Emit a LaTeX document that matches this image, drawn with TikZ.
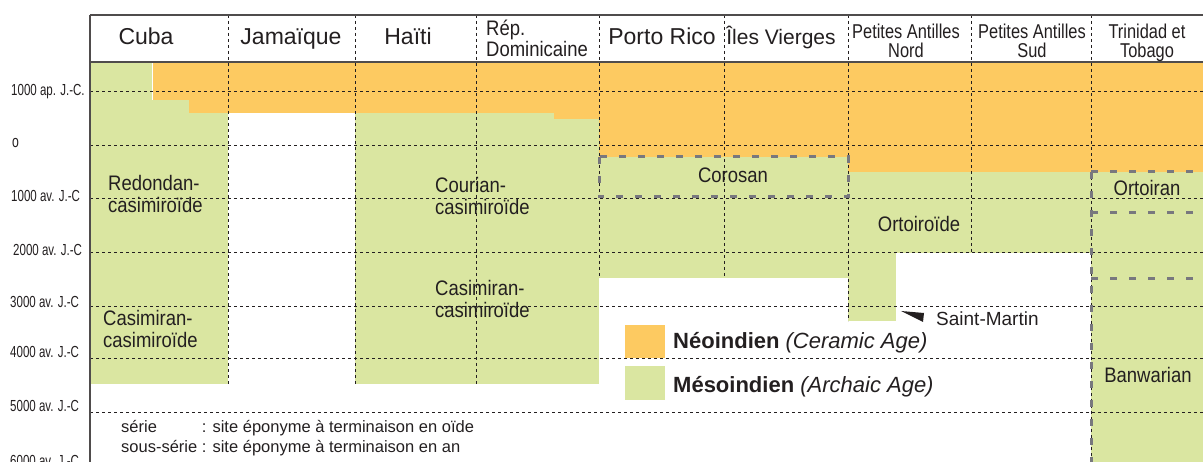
\documentclass[tikz,border=0pt]{standalone}
\usepackage{fontspec}
\setmainfont{Liberation Sans}
\newfontfamily\datefont[FakeStretch=0.72]{Liberation Sans}
\newfontfamily\paysfont[FakeStretch=0.82]{Liberation Sans}
\newfontfamily\culturefont[FakeStretch=0.88]{Liberation Sans}

\definecolor{neo}{RGB}{253,202,97}
\definecolor{meso}{RGB}{218,230,161}
\definecolor{trait}{RGB}{35,31,32}
\definecolor{tiret}{RGB}{120,120,126}

\tikzset{
  grille/.style={trait, line width=0.9pt, dash pattern=on 3pt off 3pt},
  serie/.style={tiret, line width=3pt, dash pattern=on 7pt off 12pt},
  cadre/.style={trait!80, line width=1.5pt},
  pays/.style={font=\fontsize{23}{26}\selectfont, text=trait, inner sep=0pt, anchor=base},
  paysdeux/.style={font=\paysfont\fontsize{20}{18.5}\selectfont, text=trait, inner sep=0pt, align=center, anchor=north},
  datation/.style={font=\datefont\fontsize{16}{18}\selectfont, text=trait, inner sep=0pt, anchor=base west},
  culture/.style={font=\culturefont\fontsize{21}{22.5}\selectfont, text=trait, inner sep=0pt, align=left, anchor=north west},
  phase/.style={font=\culturefont\fontsize{21}{22.5}\selectfont, text=trait, inner sep=0pt, anchor=base},
}

\begin{document}
\begin{tikzpicture}[x=1pt,y=-1pt]
    \useasboundingbox (0,0) rectangle (1203,462);

    % Néoindien
    \fill[neo] (153,62) rectangle (228,100);
    \fill[neo] (189,100) rectangle (228,113);
    \fill[neo] (228,62) rectangle (599,113);
    \fill[neo] (554,113) rectangle (599,119);
    \fill[neo] (599,62) rectangle (848,157);
    \fill[neo] (848,62) rectangle (1203,172);

    % Mésoindien
    \fill[meso] (90,62) rectangle (152,100);
    \fill[meso] (90,100) rectangle (189,113);
    \fill[meso] (90,113) rectangle (228,384);
    \fill[meso] (355,113) rectangle (554,384);
    \fill[meso] (554,119) rectangle (599,384);
    \fill[meso] (599,157) rectangle (848,278);
    \fill[meso] (848,172) rectangle (1091,253);
    \fill[meso] (848,253) rectangle (896,321);
    \fill[meso] (1091,172) rectangle (1203,462);

    % En-tête
    \fill[white] (90,15) rectangle (1203,62);

    % Dates
    \draw[grille] (90,91) -- (1203,91);
    \draw[grille] (90,145) -- (1203,145);
    \draw[grille] (90,198) -- (1203,198);
    \draw[grille] (90,252) -- (1203,252);
    \draw[grille] (90,306) -- (1203,306);
    \draw[grille] (90,358) -- (1203,358);
    \draw[grille] (90,412) -- (1203,412);

    % Colonnes
    \draw[grille] (228,15) -- (228,384);
    \draw[grille] (355,15) -- (355,384);
    \draw[grille] (476,15) -- (476,384);
    \draw[grille] (599,15) -- (599,278);
    \draw[grille] (724,15) -- (724,278);
    \draw[grille] (848,15) -- (848,321);
    \draw[grille] (971,15) -- (971,253);
    \draw[grille] (1091,15) -- (1091,462);

    % Sous-séries
    \draw[serie] (599,157) rectangle (848,197);
    \draw[serie] (1091,172) -- (1203,172);
    \draw[serie] (1091,213) -- (1203,213);
    \draw[serie] (1091,279) -- (1203,279);
    \draw[serie] (1091,172) -- (1091,462);

    \draw[cadre] (90,15) -- (1203,15);
    \draw[cadre, line width=2pt] (90,62) -- (1203,62);
    \draw[cadre] (90,15) -- (90,462);

    \node[pays] (cuba) at (146,45) {Cuba};
    \node[pays] (jamaique) at (291,45) {Jamaïque};
    \node[pays] (haiti) at (408,45) {Haïti};
    \node[paysdeux, font=\culturefont\fontsize{21}{21}\selectfont, align=left, anchor=north west] (repdom) at (486,20) {Rép.\\Dominicaine};
    \node[pays] (portorico) at (662,45) {Porto Rico};
    \node[pays, font=\fontsize{21}{24}\selectfont] (vierges) at (781,45) {Îles Vierges};
    \node[paysdeux] (pan) at (906,24) {Petites Antilles\\Nord};
    \node[paysdeux] (pas) at (1032,24) {Petites Antilles\\Sud};
    \node[paysdeux] (trinidad) at (1147,24) {Trinidad et\\Tobago};

    \node[datation] (d1) at (11,96) {1000 ap. J.-C.};
    \node[datation, font=\datefont\fontsize{17}{20}\selectfont] (d0) at (12,148) {o};
    \node[datation] (d2) at (11,202) {1000 av. J.-C};
    \node[datation] (d3) at (13,256) {2000 av. J.-C};
    \node[datation] (d4) at (10,308) {3000 av. J.-C};
    \node[datation] (d5) at (10,358) {4000 av. J.-C};
    \node[datation] (d6) at (10,412) {5000 av. J.-C};
    \node[datation] (d7) at (10,466) {6000 av. J.-C};

    \node[culture] (redondan) at (108,175) {Redondan-\\casimiroïde};
    \node[culture] (casicuba) at (103,310) {Casimiran-\\casimiroïde};
    \node[culture] (courian) at (435,177) {Courian-\\casimiroïde};
    \node[culture] (casihaiti) at (435,280) {Casimiran-\\casimiroïde};
    \node[phase] (corosan) at (733,183) {Corosan};
    \node[phase] (ortoiroide) at (919,232) {Ortoiroïde};
    \node[phase] (ortoiran) at (1147,196) {Ortoiran};
    \node[phase] (banwarian) at (1148,383) {Banwarian};

    % Saint-Martin
    \fill[trait] (901,311) -- (924,313) -- (923,322) -- cycle;
    \node[font=\fontsize{19}{22}\selectfont, text=trait, inner sep=0pt, anchor=base west] (stmartin) at (936,326) {Saint-Martin};

    % Légende
    \fill[neo] (625,325) rectangle (665,358);
    \fill[meso] (625,366) rectangle (665,400);
    \node[font=\fontsize{22}{26}\selectfont, text=trait, inner sep=0pt, anchor=base west] (neoindien) at (673,349) {\textbf{Néoindien} \textit{(Ceramic Age)}};
    \node[font=\fontsize{22}{26}\selectfont, text=trait, inner sep=0pt, anchor=base west] (mesoindien) at (673,392) {\textbf{Mésoindien} \textit{(Archaic Age)}};

    \node[font=\fontsize{16.5}{20}\selectfont, text=trait, inner sep=0pt, anchor=base west] (notes) at (121,432)
      {\begin{tabular}[t]{@{}l@{ }l@{}}série & : site éponyme à terminaison en oïde\\sous-série & : site éponyme à terminaison en an\end{tabular}};
\end{tikzpicture}
\end{document}
